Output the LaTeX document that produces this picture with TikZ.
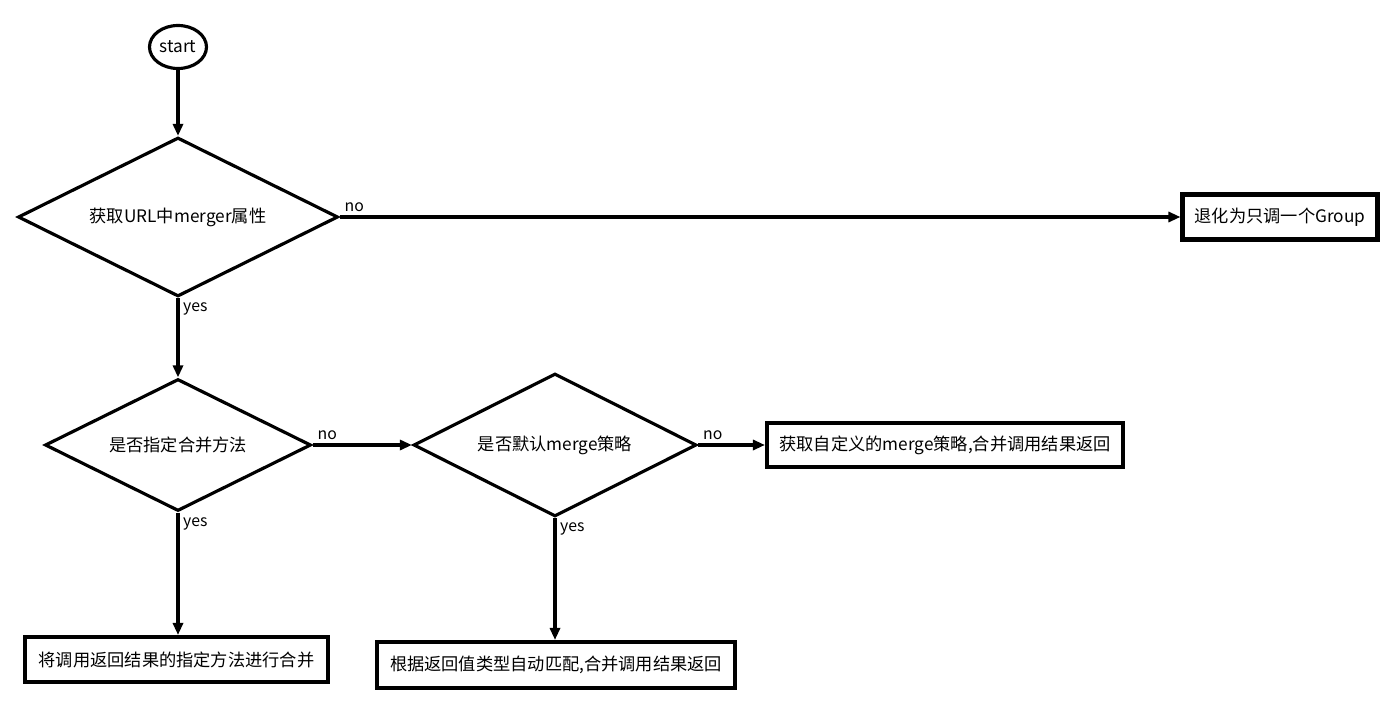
\documentclass[tikz,border=0pt]{standalone}
\usepackage{fontspec}
\setmainfont{Noto Sans CJK SC}
\usetikzlibrary{arrows.meta,shapes.geometric}

\tikzset{
  flow/.style={line width=1.8pt, -{Triangle[length=2.4mm,width=2mm]}},
  decide/.style={diamond, draw, line width=1.8pt, inner sep=0pt, aspect=2},
  action/.style={rectangle, draw, line width=2.3pt, inner sep=0pt},
  answer/.style={font=\fontsize{9}{11}\selectfont, inner sep=2pt}
}

\begin{document}
\begin{tikzpicture}[font=\fontsize{9.8}{11}\selectfont]
\useasboundingbox (0,0) rectangle (28,-14.06);
% start and first check
\node[ellipse, draw, line width=1.8pt, minimum width=1.14cm, minimum height=0.86cm, inner sep=0pt] (start) at (3.56,-0.94) {start};
\node[decide, minimum width=6.4cm, minimum height=3.18cm] (hasmerger) at (3.56,-4.34) {获取URL中merger属性};
\node[action, minimum width=3.9cm, minimum height=0.9cm] (single) at (25.6,-4.34) {退化为只调一个Group};
% second row
\node[decide, minimum width=5.32cm, minimum height=2.64cm] (hasmethod) at (3.56,-8.9) {是否指定合并方法};
\node[decide, minimum width=5.66cm, minimum height=2.86cm] (isdefault) at (11.1,-8.9) {是否默认merge策略};
\node[action, minimum width=7.12cm, minimum height=0.88cm] (custom) at (18.9,-8.9) {获取自定义的merge策略,合并调用结果返回};
% bottom row
\node[action, minimum width=6.06cm, minimum height=0.9cm] (bymethod) at (3.53,-13.19) {将调用返回结果的指定方法进行合并};
\node[action, minimum width=7.16cm, minimum height=0.92cm] (bytype) at (11.12,-13.3) {根据返回值类型自动匹配,合并调用结果返回};

\draw[flow] (start) -- (hasmerger);
\draw[flow] (hasmerger.east) -- node[answer, pos=0, above right] {no} (single);
\draw[flow] (hasmerger.south) -- node[answer, pos=0, below right] {yes} (hasmethod);
\draw[flow] (hasmethod.east) -- node[answer, pos=0, above right] {no} (isdefault.west);
\draw[flow] (isdefault.east) -- node[answer, pos=0, above right] {no} (custom);
\draw[flow] (hasmethod.south) -- node[answer, pos=0, below right] {yes} (bymethod.north -| hasmethod.south);
\draw[flow] (isdefault.south) -- node[answer, pos=0, below right] {yes} (bytype.north -| isdefault.south);
\end{tikzpicture}
\end{document}
